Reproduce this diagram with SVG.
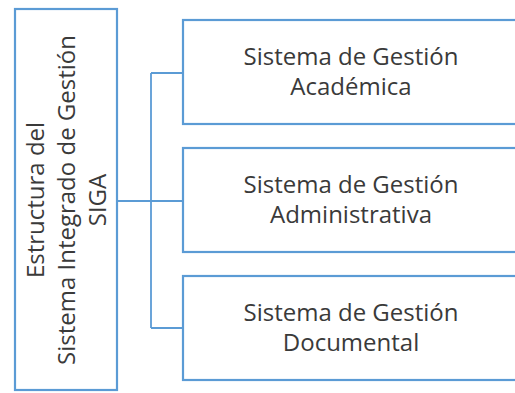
<svg xmlns="http://www.w3.org/2000/svg" width="515" height="393" viewBox="0 0 515 393">
<style>
.box{fill:#ffffff;stroke:#5b9bd5;stroke-width:2.2}
.conn{fill:none;stroke:#5b9bd5;stroke-width:1.8}
.t{font-family:"Open Sans","Liberation Sans",sans-serif;font-size:24px;fill:#3a3a3a;text-anchor:middle}
</style>
<rect width="515" height="393" fill="#ffffff"/>
<g id="connectors">
<path class="conn" d="M117 201 H183 M151 73 V328 M151 73 H183 M151 328 H183"/>
</g>
<g id="root">
<rect class="box" x="15" y="9" width="102" height="381"/>
<text class="t" transform="translate(44,200) rotate(-90)">Estructura del</text>
<text class="t" transform="translate(75,200) rotate(-90)">Sistema Integrado de Gestión</text>
<text class="t" transform="translate(106,200) rotate(-90)">SIGA</text>
</g>
<g id="academica">
<rect class="box" x="183" y="20" width="345" height="104"/>
<text class="t" x="351" y="65">Sistema de Gestión</text>
<text class="t" x="351" y="95">Académica</text>
</g>
<g id="administrativa">
<rect class="box" x="183" y="148" width="345" height="104"/>
<text class="t" x="351" y="193">Sistema de Gestión</text>
<text class="t" x="351" y="223">Administrativa</text>
</g>
<g id="documental">
<rect class="box" x="183" y="276" width="345" height="104"/>
<text class="t" x="351" y="321">Sistema de Gestión</text>
<text class="t" x="351" y="351">Documental</text>
</g>
</svg>
